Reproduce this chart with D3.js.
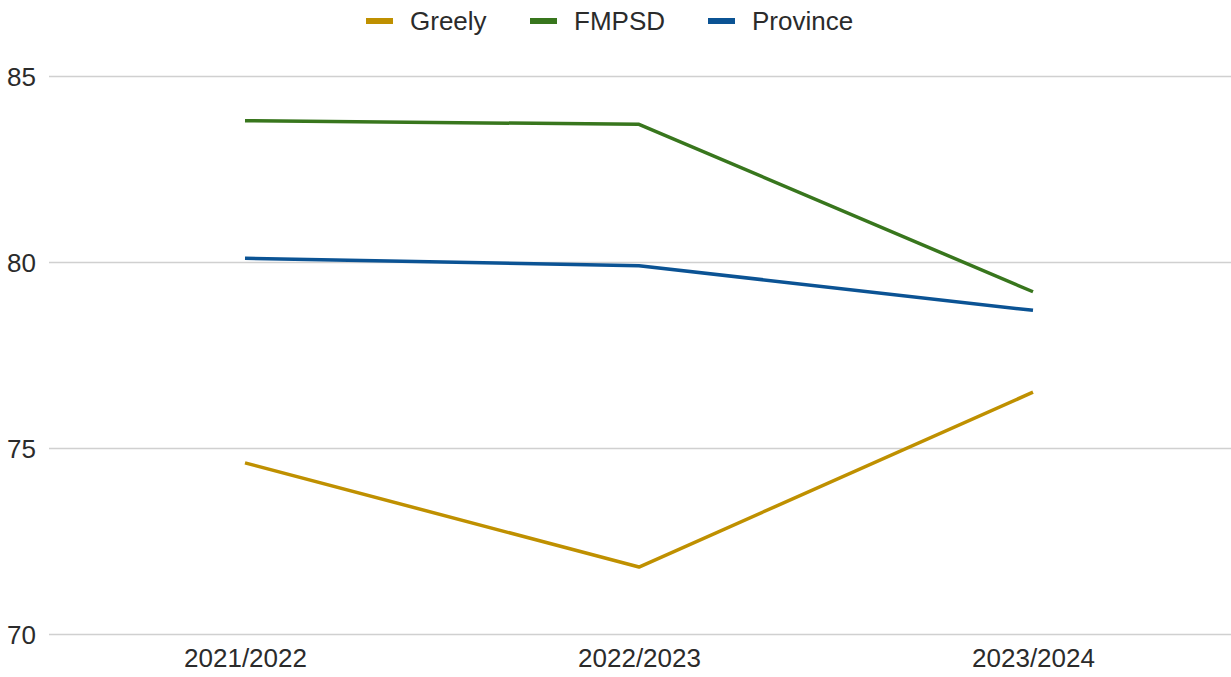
<!DOCTYPE html>
<html><head><meta charset="utf-8">
<script src="https://cdn.jsdelivr.net/npm/d3@7"></script>
<style>body{margin:0;background:#fff;}svg{display:block;}</style>
</head><body>
<svg id="c" width="1231" height="677"></svg>
<script>
const categories = ["2021/2022", "2022/2023", "2023/2024"];
const greely = [74.6, 71.8, 76.5];
const fmpsd = [83.8, 83.7, 79.2];
const province = [80.1, 79.9, 78.7];
const seriesNames = ["Greely", "FMPSD", "Province"];
const seriesColors = ["#bf9000", "#38761d", "#0b5394"];
const yTicks = [70, 75, 80, 85];

(function () {
const series = [greely, fmpsd, province];
const svg = d3.select("#c");
const font = "'Liberation Sans', Arial, sans-serif";
const fs = 26;
const mLeft = 49, mRight = 1231, mTop = 76, mBottom = 634;

const x = d3.scalePoint().domain(categories).range([245, 1033]);
const y = d3.scaleLinear().domain([70, 85]).range([mBottom, mTop]);

// gridlines
const yAxis = d3.axisLeft(y).tickValues(yTicks).tickSize(-(mRight - mLeft)).tickFormat(d3.format("d"));
const gy = svg.append("g").attr("transform", `translate(${mLeft},0)`).call(yAxis);
gy.select(".domain").remove();
gy.selectAll(".tick line").attr("stroke", "#d0d0d0").attr("stroke-width", 1.5);
gy.selectAll(".tick text").attr("x", -13).attr("dy", "0.36em")
  .attr("font-family", font).attr("font-size", fs).attr("fill", "#2b2b2b").attr("text-anchor", "end");

// x axis labels
const xAxis = d3.axisBottom(x).tickSize(0);
const gx = svg.append("g").attr("transform", `translate(0,${mBottom})`).call(xAxis);
gx.select(".domain").remove();
gx.selectAll(".tick text").attr("y", 15).attr("dy", "0.71em")
  .attr("font-family", font).attr("font-size", fs).attr("fill", "#2b2b2b");

// lines
const line = d3.line().x((d, i) => x(categories[i])).y(d => y(d));
series.forEach((s, k) => {
  svg.append("path").datum(s).attr("d", line)
    .attr("fill", "none").attr("stroke", seriesColors[k]).attr("stroke-width", 3.5)
    .attr("stroke-linejoin", "round");
});

// legend
const legendX = [366, 530, 708];
seriesNames.forEach((n, k) => {
  const g = svg.append("g").attr("transform", `translate(${legendX[k]},21)`);
  g.append("rect").attr("x", 0).attr("y", -3).attr("width", 27).attr("height", 6).attr("fill", seriesColors[k]);
  g.append("text").attr("x", 44).attr("y", 0).attr("dy", "0.36em")
    .attr("font-family", font).attr("font-size", fs).attr("fill", "#2b2b2b").text(n);
});
})();
</script>
</body></html>
